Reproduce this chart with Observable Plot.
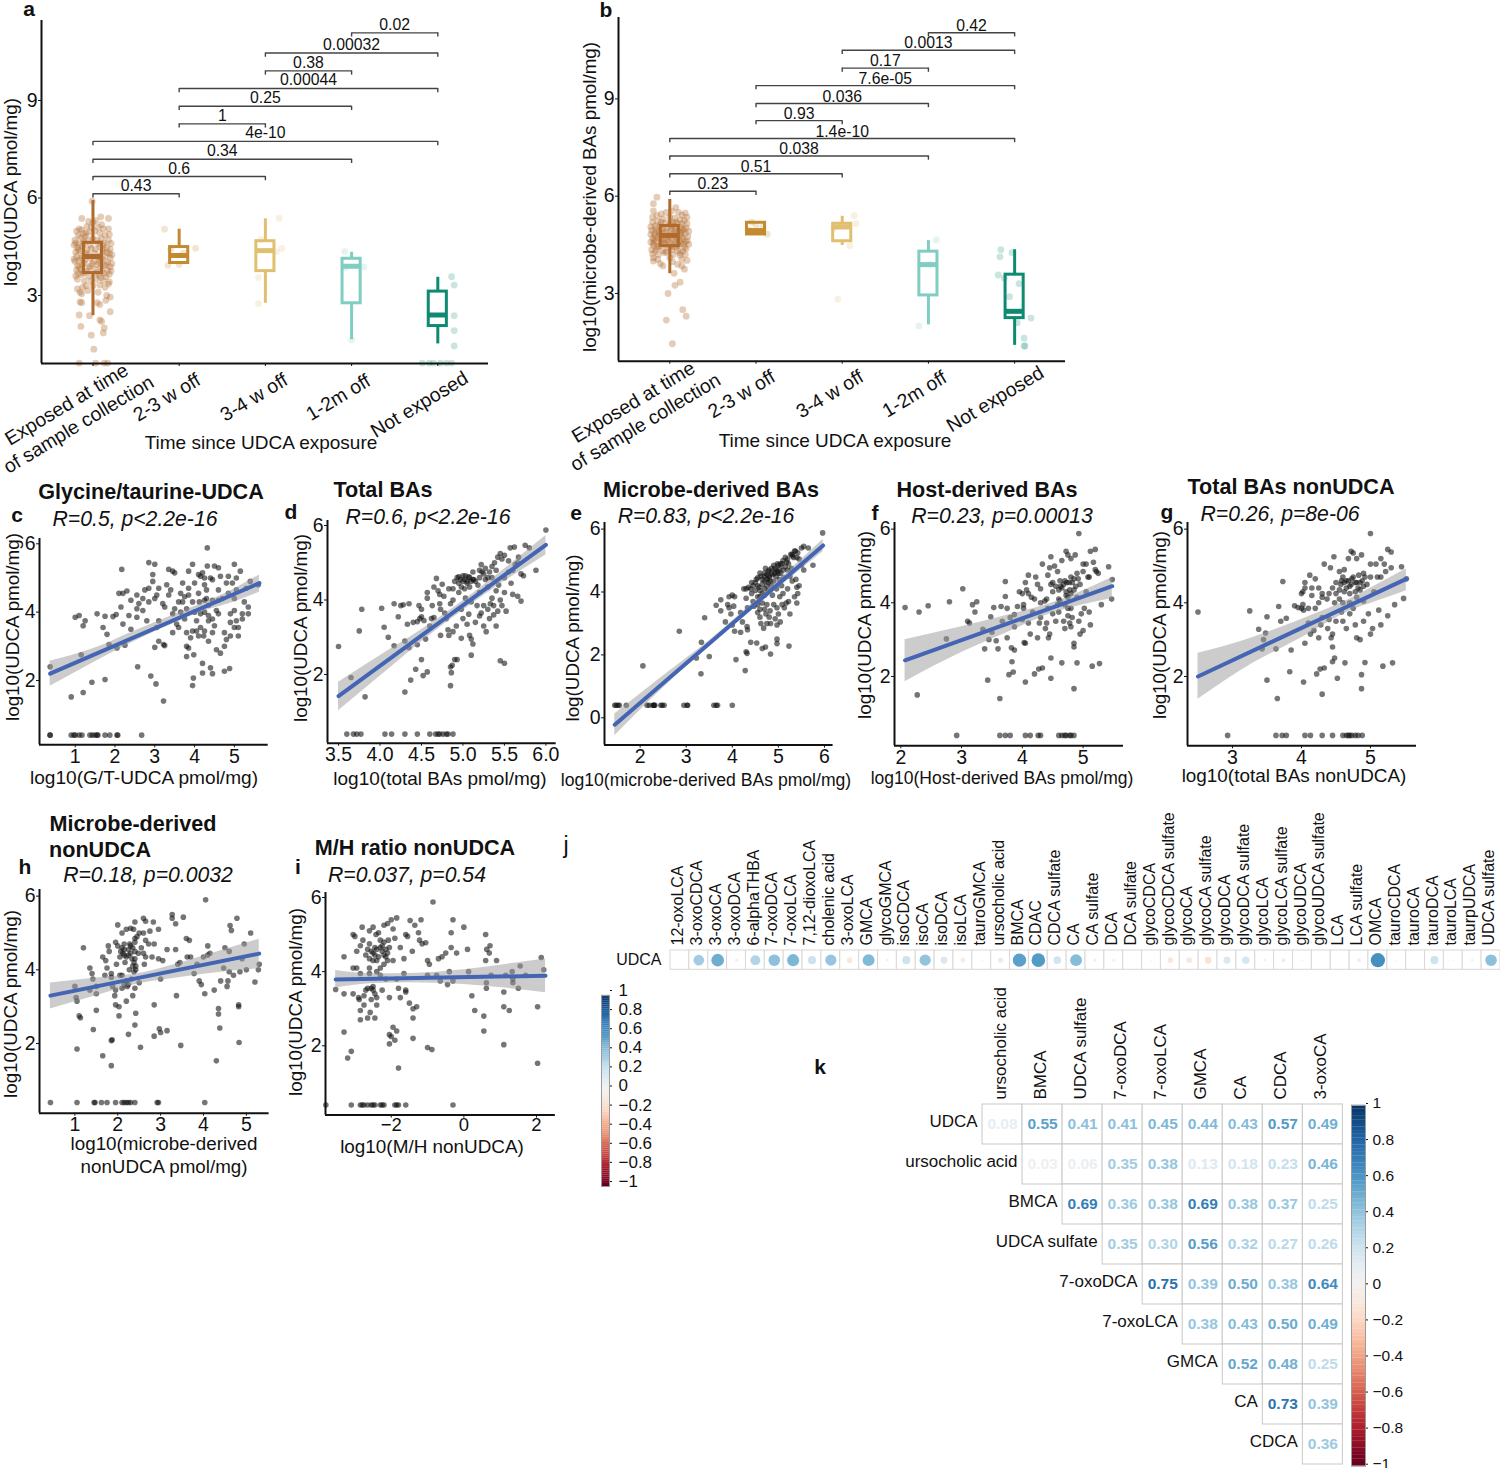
<!DOCTYPE html>
<html><head><meta charset="utf-8">
<script src="https://cdn.jsdelivr.net/npm/d3@7"></script>
<script src="https://cdn.jsdelivr.net/npm/@observablehq/plot@0.6"></script>
<style>
html,body{margin:0;padding:0;background:#fff}
#page{position:relative;width:1500px;height:1468px;overflow:hidden;font-family:"Liberation Sans",Arial,sans-serif;color:#111}
.p{position:absolute}
.p svg{overflow:visible;max-width:none;background:transparent}
.t{position:absolute;white-space:nowrap;line-height:1;transform-origin:center}
</style></head><body><div id="page"></div>
<script>
// ---------- data: panels a, b ----------
const categories=["Exposed at time\nof sample collection","2-3 w off","3-4 w off","1-2m off","Not exposed"];
const groupColors=["#b06a2c","#c48a2f","#e0c070","#80cdc1","#0f8a72"];
const bracketFrom=[0,0,0,0,1,1,1,2,2,3];
const bracketTo=[1,2,3,4,2,3,4,3,4,4];
const aBracketY=[6.13,6.66,7.19,7.74,8.28,8.82,9.37,9.91,10.46,11.08];
const aBracketP=["0.43","0.6","0.34","4e-10","1","0.25","0.00044","0.38","0.00032","0.02"];
const bBracketY=[6.15,6.69,7.24,7.78,8.33,8.86,9.41,9.95,10.5,11.04];
const bBracketP=["0.23","0.51","0.038","1.4e-10","0.93","0.036","7.6e-05","0.17","0.0013","0.42"];
const aLow=[2.38,3.95,2.76,1.64,1.51], aQ1=[3.69,4.0,3.75,2.76,2.06], aMed=[4.2,4.23,4.38,3.9,2.4], aQ3=[4.62,4.49,4.67,4.13,3.12], aHigh=[5.92,5.04,5.36,4.33,3.56];
const bLow=[3.61,4.8,4.48,2.03,1.4], bQ1=[4.46,4.82,4.61,2.94,2.24], bMed=[4.79,4.94,5.05,3.89,2.45], bQ3=[5.08,5.18,5.15,4.29,3.58], bHigh=[5.9,5.22,5.38,4.63,4.35];
const aGroup0=[[-.01,5.9],[.09,5.42],[.18,5.37],[-.13,5.37],[-.05,5.28],[0,5.25],[.03,5.3],[-.07,5.12],[-.16,5.05],[-.19,4.98],[-.13,5.02],[.12,5.05],[.18,5.05],[.08,4.92],[-.04,4.95],[.02,4.98],[-.17,4.85],[-.21,4.7],[-.14,4.78],[-.09,4.82],[.14,4.85],[.19,4.88],[.1,4.75],[-.2,4.62],[-.16,4.58],[-.11,4.68],[-.06,4.72],[.05,4.7],[.13,4.62],[.18,4.7],[.21,4.6],[-.18,4.48],[-.12,4.52],[-.03,4.55],[.08,4.5],[.16,4.48],[.2,4.42],[-.2,4.33],[-.15,4.38],[-.07,4.4],[.03,4.42],[.11,4.35],[.19,4.3],[-.19,4.2],[-.12,4.22],[-.05,4.25],[.06,4.18],[.14,4.2],[.2,4.15],[-.21,4.05],[-.16,4.08],[-.09,4.1],[.01,4.05],[.09,4.08],[.17,4.02],[-.18,3.92],[-.12,3.95],[-.03,3.9],[.05,3.95],[.13,3.92],[.2,3.88],[-.19,3.78],[-.14,3.8],[-.07,3.75],[.02,3.8],[.1,3.75],[.17,3.78],[-.2,3.6],[-.13,3.65],[-.05,3.6],[.07,3.62],[.15,3.58],[.19,3.65],[-.18,3.5],[-.1,3.45],[.04,3.5],[.12,3.45],[.19,3.42],[-.08,3.3],[0,3.3],[.08,3.32],[.18,3.35],[-.15,3.1],[-.13,3.05],[-.06,3.15],[.06,3.1],[.16,3],[.2,2.95],[-.15,2.8],[-.13,2.78],[.05,2.78],[.08,2.72],[.15,2.85],[-.16,2.4],[-.04,2.38],[.2,2.5],[.08,2.25],[.1,2.2],[.13,2],[-.14,2.05],[.12,1.85],[-.02,1.78],[.01,1.35],[-.16,.92],[.03,.92],[.13,.92],[.17,.92],[-.1,4.6],[-.02,4.45],[.06,4.6],[.12,4.42],[-.17,4.4],[-.08,4.3],[.02,4.3],[.08,4.22],[.16,4.32],[-.14,4.15],[-.03,4.15],[.11,4.12],[-.1,4],[-.01,3.98],[.07,4.02],[.15,3.95],[-.16,3.88],[-.05,3.85],[.09,3.86],[-.11,3.7],[.04,3.7],[.13,3.68],[.21,3.75],[-.17,3.68],[-.02,3.45],[.09,3.55],[.14,3.25],[-.12,3.25],[-.18,3.2],[0,4.75],[.12,4.55],[-.08,4.92],[.06,5.1],[-.02,5.1],[.1,5.18],[-.11,4.9],[-.22,4.55],[.22,4.25],[-.22,4.12],[.22,3.98]];
const aGroup1=[[-.17,5.04],[.19,4.45],[-.13,3.93],[0,3.95],[-.1,4.42],[.05,4.3]];
const aGroup2=[[.16,5.38],[.19,4.45],[-.08,3.55],[-.08,2.75],[-.05,4.72],[.13,4.35]];
const aGroup3=[[-.08,4.35],[.14,3.88],[0,1.63],[-.07,3.85]];
const aGroup4=[[.16,3.58],[.19,3.32],[.19,2.38],[.19,1.92],[.19,1.45],[-.18,.92],[-.1,.92],[-.05,.92],[.03,.92],[.1,.92],[.16,.92]];
const bGroup0=[[-.15,5.97],[-.19,5.77],[-.19,5.55],[.07,5.65],[.02,5.55],[.1,5.5],[.18,5.48],[-.1,5.45],[-.04,5.5],[.14,5.42],[.2,5.35],[-.2,5.35],[-.15,5.4],[-.08,5.3],[0,5.35],[.06,5.32],[.12,5.28],[.17,5.25],[-.2,5.2],[-.14,5.22],[-.05,5.18],[.03,5.2],[.09,5.15],[.2,5.15],[-.22,5.05],[-.17,5.08],[-.11,5.1],[-.02,5.05],[.05,5.08],[.13,5.05],[.19,5.02],[-.21,4.95],[-.15,4.92],[-.08,4.98],[.02,4.95],[.1,4.92],[.16,4.95],[.22,4.92],[-.22,4.82],[-.18,4.85],[-.12,4.8],[-.04,4.85],[.04,4.82],[.12,4.8],[.18,4.85],[.21,4.75],[-.2,4.7],[-.14,4.72],[-.07,4.68],[0,4.72],[.08,4.7],[.15,4.68],[.2,4.62],[-.22,4.58],[-.16,4.6],[-.1,4.55],[-.02,4.6],[.06,4.58],[.13,4.55],[.22,4.52],[-.19,4.48],[-.12,4.45],[-.05,4.5],[.03,4.45],[.1,4.48],[.17,4.42],[-.21,4.35],[-.15,4.38],[-.08,4.32],[.02,4.35],[.09,4.32],[.15,4.3],[-.2,4.22],[-.13,4.2],[-.06,4.25],[.04,4.2],[.12,4.18],[.18,4.2],[-.19,4.1],[-.14,4.05],[0,4.1],[.14,4.05],[.2,4.02],[-.19,4],[-.11,3.92],[.03,3.98],[.09,3.9],[.17,3.75],[.14,3.85],[-.08,3.85],[.05,3.62],[.12,3.35],[.06,3.25],[-.02,3],[.15,2.5],[.19,2.3],[-.04,2.18],[.03,1.45],[-.16,5],[-.09,5],[.01,5],[.07,5],[.15,4.98],[-.12,4.9],[-.05,4.9],[.06,4.9],[.13,4.88],[-.17,4.78],[-.09,4.75],[-.01,4.78],[.07,4.78],[.14,4.75],[-.18,4.65],[-.1,4.65],[-.03,4.65],[.04,4.65],[.11,4.62],[.18,4.6],[-.19,4.55],[-.06,4.55],[.02,4.52],[.09,4.52],[.16,4.52],[-.14,4.45],[-.01,4.42],[.07,4.42],[.19,4.38],[-.17,4.3],[-.04,4.28],[.12,4.25],[-.1,5.2],[0,5.15],[.07,5.2],[.14,5.15]];
const bGroup1=[[-.05,5.2],[.13,4.83],[0,5.1],[.08,5.05],[-.08,4.95]];
const bGroup2=[[.14,5.4],[.16,5.15],[.09,4.47],[-.05,2.82],[-.1,5]];
const bGroup3=[[.09,4.65],[-.11,2],[.02,3.9]];
const bGroup4=[[-.16,4.35],[-.17,4.13],[-.03,4.26],[-.19,3.57],[-.12,3.47],[.05,3.3],[-.06,2.9],[.19,2.24],[.03,2.1],[.11,1.62],[.11,1.38],[.12,1.38]];

// ---------- data: panels c..i ----------
const cFloor=[.37,.37,.9,.97,1,1.1,1.17,1.37,1.43,1.5,1.55,1.57,1.75,1.87,2.05,2.07,2.67];
const cPoints=[[.37,2.4],[.9,1.52],[1.2,1.65],[1.42,1.95],[1.75,2.03],[1.15,2.75],[1.85,3.05],[2.05,2.95],[2.25,3.03],[1,3.85],[1.1,3.9],[1.2,3.6],[1.25,3.75],[1.55,3.95],[1.75,3.88],[1.95,3.87],[2.03,3.93],[1.7,3.55],[1.8,3.35],[2.2,3.65],[2.15,4.15],[2.35,3.9],[2.4,4.35],[2.1,4.55],[2.2,4.55],[2.3,4.62],[2.17,5.25],[2.4,3.5],[2.55,3.85],[2.55,4.1],[2.6,4.25],[2.7,4.4],[2.55,4.5],[2.75,4.65],[2.85,4.7],[2.7,4.05],[2.8,3.75],[2.85,4.3],[2.85,5.45],[3,5.4],[2.95,5.1],[2.95,4.9],[3.05,4.5],[3,4.4],[3.1,4.7],[3.05,3.55],[3.1,3.75],[3,2.97],[2.57,2.4],[2.9,2.13],[3.03,1.9],[3.22,1.4],[3.1,3.15],[3.22,3.05],[3.25,3.02],[3.2,4.25],[3.3,4.8],[3.25,4.15],[3.35,4.5],[3.35,5.25],[3.45,5.2],[3.5,5.15],[3.4,4.65],[3.5,4.1],[3.45,3.95],[3.55,3.65],[3.45,3.4],[3.6,3.55],[3.6,4.3],[3.65,4.55],[3.7,4.85],[3.7,4.3],[3.65,4],[3.75,4.45],[3.75,3.8],[3.8,4.1],[3.8,3.4],[3.85,5.2],[3.85,4.7],[3.8,3],[3.85,2.95],[3.8,2.7],[3.9,3.25],[3.85,4.5],[3.95,5.4],[3.95,4.3],[4,4.85],[4,4],[3.95,3.45],[4.05,3.75],[4.05,3.45],[3.98,2.75],[3.97,2.07],[3.95,1.85],[4.1,5.1],[4.15,5.05],[4.1,4.55],[4.12,4.3],[4.15,3.95],[4.15,3.55],[4.1,3.3],[4.2,5.15],[4.25,5],[4.25,4.8],[4.25,4.35],[4.25,4],[4.25,3.45],[4.23,3.3],[4.2,2.5],[4.2,2.22],[4.32,5.88],[4.32,5.35],[4.3,4.65],[4.3,4.4],[4.35,4.2],[4.35,3.9],[4.35,3.75],[4.35,3.15],[4.4,5],[4.4,2.37],[4.45,3.4],[4.45,3.8],[4.45,4.35],[4.45,4.95],[4.5,5.35],[4.45,2.2],[4.5,3.6],[4.55,4.05],[4.55,2.9],[4.6,4.65],[4.6,4.35],[4.6,3.95],[4.65,5.05],[4.6,5.3],[4.65,2.8],[4.7,4.4],[4.75,3.4],[4.75,3],[4.8,3.2],[4.8,4.85],[4.85,5.05],[4.85,4.55],[4.75,2.27],[4.88,2.35],[4.9,3.3],[4.9,3.7],[4.9,3.95],[4.95,4.85],[5,5.4],[5,4.4],[5,3.55],[5,4.05],[5.05,5],[5.05,4.65],[5.05,3.75],[5.1,3.55],[5.1,3.3],[5.15,5.2],[5.2,3.95],[5.2,3.8],[5.25,4.3],[5.35,4.15],[5.35,3.95],[5.3,4.7],[5.4,4.9],[5.6,4.8]];
const dFloor=[3.6,3.68,3.72,3.77,4.06,4.14,4.3,4.45,4.6,4.67,4.7,4.72,4.76,4.8,4.82,4.88];
const dPoints=[[3.5,2.75],[3.65,1.92],[3.75,3.17],[3.78,3.75],[3.82,1.4],[4.02,3.78],[4.05,3.27],[4.1,3],[4.17,2.77],[4.17,3.9],[4.22,3.55],[4.25,3.85],[4.28,3.87],[4.3,2.9],[4.3,1.53],[4.33,3.35],[4.35,3.9],[4.35,2.72],[4.37,1.85],[4.4,3.4],[4.43,2.14],[4.45,3.42],[4.45,2.8],[4.47,3.85],[4.48,3.5],[4.5,2.4],[4.5,3.75],[4.5,3.55],[4.52,1.97],[4.53,3.45],[4.55,2.95],[4.57,2.07],[4.57,4.2],[4.57,4.05],[4.6,3.3],[4.62,3.5],[4.63,3.85],[4.65,4.35],[4.65,3.53],[4.68,4.58],[4.7,4.25],[4.72,4.15],[4.72,3.9],[4.73,3.75],[4.73,3.05],[4.75,4.42],[4.77,4.1],[4.78,3.65],[4.8,3.5],[4.82,3.2],[4.83,3.05],[4.83,4.3],[4.85,3.9],[4.85,2.2],[4.85,1.7],[4.86,2.05],[4.87,2.25],[4.88,4.3],[4.88,4],[4.9,2.4],[4.92,3.3],[4.93,2.4],[4.88,3.15],[4.9,4.5],[4.93,4.6],[4.95,4.45],[4.95,4.2],[4.98,3.75],[4.98,4.35],[5,4.65],[4.98,2.97],[5,3.5],[5.02,4.55],[5.02,4.3],[5.03,4.05],[5.05,3.35],[5.05,4.45],[5.07,3.62],[5.07,4.62],[5.08,3.05],[5.08,4.35],[5.1,2.95],[5.1,2.52],[5.1,3.95],[5.12,4.75],[5.12,2.82],[5.13,4.55],[5.15,4.5],[5.15,3.4],[5.17,3.85],[5.18,4.4],[5.2,4.6],[5.2,3.57],[5.2,4.2],[5.22,4.95],[5.22,3.65],[5.23,4.75],[5.25,3.3],[5.25,3.85],[5.27,4.85],[5.27,4.55],[5.28,3.15],[5.3,3.75],[5.3,4.35],[5.32,4.75],[5.32,3.5],[5.33,3.9],[5.35,4.05],[5.35,4.6],[5.35,4.9],[5.37,3.6],[5.37,3.85],[5.38,5],[5.4,4.8],[5.4,4.25],[5.4,3.3],[5.42,5.15],[5.42,3.7],[5.43,4.4],[5.45,5.25],[5.45,2.37],[5.45,4],[5.47,5.1],[5.47,3.85],[5.5,5.2],[5.5,2.3],[5.5,4.6],[5.5,4.2],[5.52,3.7],[5.55,4.75],[5.55,5.05],[5.57,5.4],[5.58,4.45],[5.6,4.15],[5.62,5.42],[5.63,4.95],[5.6,4.8],[5.66,5],[5.66,4.1],[5.67,5.15],[5.7,4.7],[5.7,3.97],[5.73,4.65],[5.75,5.47],[5.8,5.4],[5.88,4.8],[6,5.88],[4.95,4.62],[4.97,4.55],[5,4.5],[5.03,4.65],[5.05,4.5],[5.08,4.6],[5.1,4.5],[5.12,4.55],[5.2,4.8],[5.25,4.7],[5.3,4.6]];
const eFloor=[1.45,1.48,1.52,1.55,1.7,2.15,2.2,2.28,2.3,2.3,2.32,2.45,2.48,2.52,2.95,3.02,3.03,3.6,3.65,3.68,4];
const ePoints=[[2.06,1.65],[2.85,2.75],[3.22,1.9],[3.32,1.4],[3.33,2.4],[3.4,3.18],[3.5,1.95],[3.65,3.58],[3.75,3.75],[3.75,3.4],[3.85,3.05],[3.9,3.6],[3.93,3.85],[3.93,3.5],[3.97,3.3],[4,3.9],[4,2.95],[4.03,3.55],[4.05,3.85],[4.05,2.75],[4.08,1.85],[4.18,3.35],[4.18,2.72],[4.22,3.05],[4.25,4.1],[4.28,1.5],[4.3,2.1],[4.32,2.05],[4.32,2.9],[4.33,2.8],[4.33,3.5],[4.3,3.8],[4.3,4.1],[4.35,4.15],[4.4,2.4],[4.42,3.95],[4.42,4.3],[4.45,3.7],[4.47,3.55],[4.5,4.05],[4.52,4.4],[4.53,2.38],[4.55,3.85],[4.55,3.35],[4.58,4.15],[4.6,3.45],[4.6,3.2],[4.62,4.5],[4.62,3],[4.65,3.95],[4.65,2.2],[4.68,2.85],[4.7,4.35],[4.7,4.6],[4.7,4.1],[4.72,2.25],[4.73,3.3],[4.75,4.55],[4.75,3.6],[4.78,4.3],[4.78,4.05],[4.8,4.7],[4.8,4.45],[4.82,3.4],[4.83,3],[4.83,2.03],[4.85,4.6],[4.85,4.2],[4.87,3.9],[4.9,4.35],[4.9,3.6],[4.92,4.75],[4.93,3.15],[4.95,4.5],[4.96,4.1],[4.97,3.5],[4.97,2.95],[4.97,2.5],[4.97,2.36],[4.98,4.65],[5,4.85],[5,3.3],[5.02,4.4],[5.03,3.85],[5.04,3.05],[5.05,4.6],[5.07,4.2],[5.08,4.9],[5.08,3.6],[5.1,4.7],[5.1,3.95],[5.12,4.45],[5.13,3.5],[5.15,4.8],[5.17,3.65],[5.18,4.95],[5.2,5.05],[5.2,4.1],[5.22,3.7],[5.23,2.28],[5.25,4.5],[5.25,3.3],[5.27,5.2],[5.28,4.75],[5.3,4.35],[5.33,5.1],[5.35,3.85],[5.37,5.3],[5.38,4.4],[5.4,4.15],[5.4,3.65],[5.42,3.95],[5.42,5.25],[5.45,4.2],[5.45,5.05],[5.5,5.4],[5.55,4.7],[5.5,4.85],[5.55,5.45],[5.65,5.4],[5.75,4.85],[5.96,5.88],[4.55,4.45],[4.6,4.6],[4.65,4.4],[4.7,4.5],[4.72,4.75],[4.75,4.4],[4.78,4.65],[4.8,4.5],[4.82,4.35],[4.85,4.75],[4.88,4.55],[4.9,4.85],[4.92,4.6],[4.95,4.7],[4.98,4.9],[5,4.6],[5.03,4.75],[5.05,4.9],[5.1,5],[5.15,5.1],[5.2,4.7],[5.22,4.9],[5.3,5.15],[5.35,5.3],[5.3,5.2],[5.4,5.1],[4.4,4.1],[4.45,4.2],[4.5,4.3],[4.55,4.2],[4.6,4.05],[4.65,4.25],[4.7,3.9],[4.75,4.2],[4.6,3.85],[4.55,3.6],[4.65,3.65],[4.7,3.45],[4.75,3],[4.8,3.2]];
const fFloor=[2.92,3.63,3.72,3.8,4.05,4.13,4.26,4.3,4.6,4.65,4.7,4.72,4.78,4.8,4.85];
const fPoints=[[2.07,3.87],[2.27,1.5],[2.3,3.75],[2.45,3.92],[2.75,3.02],[2.8,4.03],[3.02,4.38],[3.1,3.5],[3.13,3.45],[3.18,3.95],[3.22,3.75],[3.25,4.03],[3.35,3.28],[3.38,2.75],[3.43,1.9],[3.45,3],[3.48,3.62],[3.5,3.2],[3.53,3.87],[3.57,2.97],[3.6,2.75],[3.63,1.4],[3.65,3.9],[3.67,3.5],[3.72,4.58],[3.72,4.17],[3.75,3.85],[3.75,3.05],[3.78,2.05],[3.8,3.6],[3.82,2.78],[3.83,2.4],[3.85,2.12],[3.87,2.72],[3.87,3.35],[3.87,3.68],[3.92,3.9],[3.95,4.3],[4,3.55],[4,4.25],[4.02,3.95],[4.02,3.85],[4.03,2.92],[4.05,2.9],[4.05,1.85],[4.05,4.55],[4.07,4.35],[4.1,4.25],[4.1,4.75],[4.1,3.45],[4.13,3.15],[4.15,4.15],[4.17,3.75],[4.2,4.1],[4.2,2.07],[4.22,4.7],[4.25,4.5],[4.25,3.05],[4.27,2.2],[4.28,3.45],[4.3,4.38],[4.3,3.6],[4.33,5.05],[4.33,2.23],[4.37,4.05],[4.38,3.3],[4.4,3.45],[4.42,3.85],[4.42,4.75],[4.43,3.05],[4.45,4.95],[4.45,3.15],[4.47,5.25],[4.47,4.5],[4.47,2.5],[4.47,1.95],[4.5,4.3],[4.5,3.7],[4.53,5],[4.55,4.45],[4.55,3.5],[4.58,4.85],[4.6,4.1],[4.6,3.75],[4.63,4.45],[4.65,5.15],[4.65,2.37],[4.68,3.5],[4.7,4.6],[4.7,3.3],[4.72,5.4],[4.72,4.2],[4.75,5.3],[4.75,3.85],[4.77,4.55],[4.78,3.45],[4.8,5.2],[4.8,4.7],[4.8,3.35],[4.82,3.6],[4.85,4.35],[4.85,1.67],[4.87,5.3],[4.85,2.9],[4.85,2.8],[4.9,4.8],[4.9,2.37],[4.93,3.5],[4.93,5.88],[4.95,4.5],[4.95,3.15],[4.97,3.7],[5,5.05],[5,4.85],[5,3.25],[5.02,3.85],[5.05,5.05],[5.05,4.3],[5.08,4.7],[5.1,3.75],[5.1,4.7],[5.12,5.4],[5.12,3.4],[5.15,2.28],[5.17,5.1],[5.2,5.45],[5.2,4.9],[5.22,4.85],[5.27,2.35],[5.25,4.8],[5.3,3.95],[5.42,4.98],[5.47,4.1],[5.48,4.63],[4.5,4.55],[4.6,4.35],[4.62,4.6],[4.65,4.4],[4.68,4.5],[4.72,4.3],[4.73,4.55],[4.75,4.15],[4.78,4.35],[4.8,4.25],[4.82,4.55],[4.85,4.65],[4.88,4.45],[4.9,4.15],[4.92,4.65],[4.58,3.95],[4.62,4.05],[4.7,3.95],[4.75,3.65],[4.8,3.85],[4.4,4.1],[4.3,4]];
const gFloor=[2.93,3.63,3.72,3.78,4.05,4.13,4.3,4.45,4.6,4.65,4.68,4.7,4.73,4.78,4.82,4.88];
const gPoints=[[2.5,3.75],[3.25,3.78],[3.38,3.28],[3.43,2.75],[3.45,3],[3.48,3.18],[3.5,3.62],[3.5,1.9],[3.63,2.75],[3.65,1.4],[3.67,3.9],[3.7,3.5],[3.73,4.58],[3.78,3.58],[3.85,2.72],[3.83,2.13],[3.9,3.92],[3.95,3.87],[4,4.25],[4,3.85],[4.02,4.3],[4.02,3.95],[4.03,3.8],[4.05,4.55],[4.05,4.4],[4.05,2.9],[4.03,1.85],[4.1,3.85],[4.1,3.45],[4.12,4.75],[4.13,3.15],[4.15,4.2],[4.15,4.4],[4.18,3.25],[4.2,3.85],[4.2,4.65],[4.22,2.07],[4.25,4.4],[4.25,4],[4.25,3.05],[4.27,2.2],[4.28,3.4],[4.3,4.25],[4.3,4.15],[4.3,3.6],[4.3,1.52],[4.33,5.05],[4.33,2.23],[4.37,4.1],[4.38,3.3],[4.4,3.55],[4.42,4.95],[4.43,3.05],[4.45,4.4],[4.45,3.15],[4.45,2.8],[4.45,2.4],[4.47,5.25],[4.48,4],[4.48,2.5],[4.5,4.55],[4.52,1.95],[4.5,3.5],[4.55,4.85],[4.55,4.1],[4.57,4.5],[4.58,3.75],[4.6,3.5],[4.62,4.9],[4.62,4.3],[4.63,2.37],[4.65,4.6],[4.65,3.3],[4.68,5.2],[4.7,4.45],[4.7,3.7],[4.72,5.4],[4.73,4.65],[4.75,5.35],[4.75,3.85],[4.78,4.55],[4.78,3.4],[4.8,5.2],[4.8,3.05],[4.83,4.75],[4.85,4.35],[4.85,3],[4.87,5.3],[4.87,2.05],[4.87,1.67],[4.9,4.8],[4.9,4.05],[4.9,3.5],[4.92,2.38],[4.95,4.5],[4.97,3.7],[5,5.88],[5,5.05],[5,4.7],[5,3.15],[5.03,3.3],[5.05,4.3],[5.08,5.05],[5.1,4.7],[5.12,3.8],[5.15,4.7],[5.15,5.2],[5.15,3.4],[5.18,2.28],[5.2,5.05],[5.22,4.85],[5.25,5.45],[5.25,3.65],[5.3,5.38],[5.3,4.95],[5.32,2.37],[5.35,3.95],[5.45,4.98],[5.48,4.12],[5.52,4.65],[4.6,4.7],[4.62,4.55],[4.65,4.4],[4.68,4.6],[4.7,4.25],[4.72,4.5],[4.75,4.7],[4.78,4.3],[4.8,4.55],[4.82,4.4],[4.85,4.55],[4.88,4.6],[4.9,4.45],[4.92,4.7],[4.55,4.35],[4.58,4.6],[4.5,4.25],[4.6,4],[4.7,4],[4.8,4.15],[4.4,4.25]];
const hFloor=[.43,1.05,1.45,1.47,1.62,1.75,1.95,2.1,2.15,2.2,2.25,2.3,2.4,2.92,2.95,4.03];
const hPoints=[[1,3.55],[1.03,3.25],[1.05,3.15],[1.05,1.85],[1.1,2.75],[1.13,2.7],[1.2,4.6],[1.35,3.45],[1.35,4.05],[1.4,3.9],[1.42,3.75],[1.43,2.38],[1.5,3.35],[1.5,3.55],[1.5,2.9],[1.65,4.35],[1.65,1.67],[1.7,3.85],[1.72,4.25],[1.78,4.65],[1.75,4.05],[1.8,4.5],[1.85,2.08],[1.85,1.4],[1.87,2.1],[1.85,3.8],[1.88,3.55],[1.93,3.3],[1.95,4.75],[1.95,3.05],[1.97,4.15],[2,5.22],[2,4.65],[2.03,3],[2.03,2.75],[2.05,3.85],[2.07,4.5],[2.1,5],[2.1,3.5],[2.15,4.7],[2.15,4.4],[2.17,4.2],[2.2,5.1],[2.2,3.15],[2.22,3.55],[2.25,4.55],[2.25,2.25],[2.27,4],[2.3,5.13],[2.3,4.65],[2.33,4.3],[2.35,3.3],[2.37,5.1],[2.4,5.3],[2.4,4.85],[2.4,4.5],[2.4,3.5],[2.42,4],[2.42,2.82],[2.4,2.5],[2.5,5],[2.5,3.65],[2.53,1.9],[2.6,5.4],[2.6,5],[2.62,4.15],[2.65,4.8],[2.65,5.32],[2.72,4.7],[2.75,5.05],[2.8,4.35],[2.83,5.3],[2.85,4.7],[2.85,3.05],[2.85,2.2],[2.95,5.1],[2.95,4.3],[2.97,2.4],[3,2.3],[3,3.75],[3.05,4.25],[3.15,4.55],[3.15,2.35],[3.27,5.5],[3.27,5.4],[3.35,5.25],[3.35,4.55],[3.37,3.3],[3.4,4.15],[3.45,4.2],[3.47,1.95],[3.53,5.43],[3.6,4.85],[3.62,4.35],[3.67,4.8],[3.7,4.35],[3.78,3.9],[3.85,4.15],[3.9,3.7],[3.95,3.6],[4,4.35],[4.03,3.35],[4.1,4.4],[4.05,5.9],[4.1,4.65],[4.15,4.45],[4.25,3.45],[4.3,1.53],[4.35,2.95],[4.35,2.8],[4.38,2.42],[4.4,3.7],[4.47,4.05],[4.5,4.6],[4.55,3.55],[4.57,3.7],[4.6,4.5],[4.6,3.95],[4.62,5.2],[4.65,5.07],[4.7,3.85],[4.78,5.4],[4.82,3.05],[4.82,3],[4.83,2.03],[4.85,3.95],[4.9,4.3],[4.95,4.7],[5,4],[5.1,5],[5.2,3.67],[5.3,4.15],[5.28,4],[2.05,4.35],[2.1,4.6],[2.12,4.45],[2.15,4.55],[2.2,4.35],[2.25,4.4],[2.28,4.7],[2.3,4.45],[2.35,4.6],[2.38,4.2],[2.4,4.3],[2.4,4.75],[2.42,4.1],[2.35,4.1],[2.38,3.95],[2.1,3.85],[2.15,3.6],[2.2,3.7],[2.25,3.6],[2.32,3.75],[2.45,4.9],[2.48,4.45],[2.55,4.6],[2.6,4.45],[2.65,4.35],[1.85,3.9],[1.95,3.45]];
const iFloor=[-3.8,-3.1,-2.85,-2.8,-2.75,-2.65,-2.55,-2.5,-2.45,-2.3,-2.25,-2.2,-1.9,-1.85,-1.8,-1.6,-.3];
const iPoints=[[-3.53,3.52],[-3.3,4.4],[-3.3,3.4],[-3.3,2.37],[-3.2,1.67],[-3.1,1.85],[-3.05,3.4],[-3.05,4.1],[-3.05,5],[-3,4.95],[-2.95,4.1],[-2.95,4.55],[-2.9,3.3],[-2.88,3.25],[-2.85,4.7],[-2.85,3.95],[-2.85,2.95],[-2.85,2.7],[-2.8,5.2],[-2.78,4.85],[-2.75,3.1],[-2.7,4.45],[-2.65,2.75],[-2.6,5.1],[-2.6,4.75],[-2.6,4.1],[-2.58,2.9],[-2.55,3.55],[-2.5,5.2],[-2.5,4.5],[-2.5,3.5],[-2.45,2.75],[-2.45,4.65],[-2.42,5],[-2.4,4.3],[-2.4,3.3],[-2.4,3.1],[-2.35,5.05],[-2.3,4.65],[-2.3,4.1],[-2.25,3.5],[-2.2,5.25],[-2.2,4.45],[-2.15,3.8],[-2.1,5.3],[-2.08,4.85],[-2.1,4.3],[-2.05,3.3],[-2.05,2.3],[-2,5.4],[-2,2.25],[-2.05,2.05],[-1.95,2.5],[-1.95,5.15],[-1.9,4.9],[-1.9,2.15],[-1.85,2.4],[-1.85,5.45],[-1.85,3.8],[-1.8,3.55],[-1.75,4.65],[-1.75,3.3],[-1.65,4.35],[-1.65,3.95],[-1.6,5],[-1.6,3.5],[-1.55,4.95],[-1.6,3.45],[-1.5,3.15],[-1.8,1.4],[-1.48,5.38],[-1.42,4.55],[-1.4,3],[-1.4,2.75],[-1.4,2.2],[-1.35,5.25],[-1.3,3.05],[-1.25,5.05],[-1.22,4.85],[-1.18,5.4],[-1.15,4.75],[-1.05,4.78],[-1,4.3],[-1,3.9],[-1,1.95],[-.95,4.2],[-.88,1.9],[-.85,5.88],[-.75,3.9],[-.7,4.35],[-.65,3.75],[-.6,4.4],[-.5,4.5],[-.45,3.65],[-.4,4],[-.35,4.65],[-.35,5.05],[-.3,3.75],[-.3,5.4],[-.2,4.5],[0,5.2],[.1,4.6],[.13,4],[.22,3.35],[.3,2.95],[.55,2.8],[.55,2.4],[.6,5],[.6,4.3],[.62,3.55],[.62,3.7],[.63,4.6],[.7,4.5],[.72,4.7],[.75,3.9],[.9,4.3],[1.1,3.45],[1.1,3.05],[1.1,2.03],[1.15,3.9],[1.25,2.95],[1.33,4],[1.35,3.8],[1.35,3.7],[1.5,3.55],[1.55,4.15],[1.7,3.9],[2.03,3.05],[2.03,1.53],[2.13,4.38],[2.2,4.05],[-2.65,4.6],[-2.6,4.35],[-2.55,4.55],[-2.5,4.3],[-2.45,4.45],[-2.4,4.6],[-2.35,4.4],[-2.3,4.85],[-2.25,4.55],[-2.25,4.7],[-2.2,4.8],[-2.15,4.6],[-2.15,4.4],[-2.1,4.5],[-2.05,4.65],[-2.2,4.2],[-2.4,4],[-2.6,3.95],[-2.7,3.5],[-2.75,3.35],[-2.65,3.55],[-2.5,3.6],[-2.45,3.4],[-2.55,3.25],[-2.3,3.9],[-1.95,4.3]];
// fit lines and ribbons
const cBand={x:[.37,1.5,2.5,3.5,4.2,5,5.63],lo:[1.83,2.55,3.15,3.68,4.02,4.3,4.58],hi:[2.56,2.95,3.45,3.93,4.26,4.68,5.09]};
const dBand={x:[3.5,4,4.5,5,5.5,6],lo:[1.03,1.95,2.88,3.72,4.5,5.21],hi:[1.79,2.5,3.2,3.97,4.83,5.73]};
const eBand={x:[1.45,2.5,3.5,4.5,5,5.97],lo:[-.57,.95,2.25,3.52,4.13,5.28],hi:[.12,1.33,2.45,3.72,4.37,5.67]};
const fBand={x:[2.07,3,3.8,4.5,5,5.48],lo:[1.86,2.65,3.23,3.72,3.95,4.12],hi:[3,3.35,3.68,4,4.33,4.69]};
const gBand={x:[2.5,3.2,4,4.7,5.1,5.52],lo:[1.38,2.25,3.05,3.78,4.05,4.33],hi:[2.63,3,3.55,4.1,4.5,4.92]};
const hBand={x:[.43,1.5,2.5,3.5,4.5,5.3],lo:[2.94,3.3,3.62,3.8,3.95,4.03],hi:[3.64,3.78,3.9,4.2,4.55,4.83]};
const iBand={x:[-3.53,-2.5,-1.5,0,1.2,2.25],lo:[3.56,3.68,3.7,3.65,3.55,3.43],hi:[4.03,3.94,3.95,4.05,4.2,4.34]};
const cFit=[[.37,2.2],[5.63,4.85]], dFit=[[3.5,1.42],[6,5.48]], eFit=[[1.45,-.22],[5.97,5.48]], fFit=[[2.07,2.44],[5.48,4.45]], gFit=[[2.5,2],[5.52,4.65]], hFit=[[.43,3.3],[5.3,4.44]], iFit=[[-3.53,3.79],[2.25,3.89]];
// ---------- data: panels j, k ----------
const jNames=["12-oxoLCA","3-oxoCDCA","3-oxoCA","3-oxoDCA","6-alphaTHBA","7-oxoDCA","7-oxoLCA","7,12-dioxoLCA","cholenic acid","3-oxoLCA","GMCA","glycoGMCA","isoCDCA","isoCA","isoDCA","isoLCA","tauroGMCA","ursocholic acid","BMCA","CDAC","CDCA sulfate","CA","CA sulfate","DCA","DCA sulfate","glycoCDCA","glycoCDCA sulfate","glycoCA","glycoCA sulfate","glycoDCA","glycoDCA sulfate","glycoLCA","glycoLCA sulfate","glycoUDCA","glycoUDCA sulfate","LCA","LCA sulfate","OMCA","tauroCDCA","tauroCA","tauroDCA","tauroLCA","taurpUDCA","UDCA sulfate"];
const jValues=[0,.35,.49,.03,.3,.41,.45,.2,.38,-.1,.44,.02,.2,.39,.15,-.07,.01,.08,.55,.57,.18,.43,.03,.03,0,.01,-.1,-.1,-.14,.15,.17,.02,.05,.01,0,0,-.05,.62,.01,0,.2,.01,.02,.41];
const kCols=["ursocholic acid","BMCA","UDCA sulfate","7-oxoDCA","7-oxoLCA","GMCA","CA","CDCA","3-oxoCA"];
const kRows=["UDCA","ursocholic acid","BMCA","UDCA sulfate","7-oxoDCA","7-oxoLCA","GMCA","CA","CDCA"];
const kValues=[[.08,.55,.41,.41,.45,.44,.43,.57,.49],[.03,.06,.35,.38,.13,.18,.23,.46],[.69,.36,.38,.69,.38,.37,.25],[.35,.30,.56,.32,.27,.26],[.75,.39,.50,.38,.64],[.38,.43,.50,.49],[.52,.48,.25],[.73,.39],[.36]];
const legendTicks=[1,.8,.6,.4,.2,0,-.2,-.4,-.6,-.8,-1];

// ---------- helpers ----------
const page=document.getElementById("page");
const FONT='"Liberation Sans",Arial,sans-serif';
const plain=d=>String(d).replace("-","\u2212");
function label(text,cx,cy,o={}){
  const s=document.createElement("div");s.className="t";s.textContent=text;
  s.style.left=cx+"px";s.style.top=cy+"px";
  s.style.fontSize=(o.size||18.8)+"px";
  if(o.bold)s.style.fontWeight="bold";
  if(o.italic)s.style.fontStyle="italic";
  if(o.lh)s.style.lineHeight=o.lh;
  s.style.transform=`translate(-50%,-50%)${o.rotate?` rotate(${o.rotate}deg)`:""}`;
  page.appendChild(s);
}
const M={l:60,r:30,t:30,b:60};
function place(frame,opts,m=M){
  const [l,t,r,b]=frame;
  const fig=Plot.plot({width:r-l+m.l+m.r,height:b-t+m.t+m.b,marginLeft:m.l,marginRight:m.r,marginTop:m.t,marginBottom:m.b,
    style:{background:"transparent",fontFamily:FONT,overflow:"visible",color:"#111"},...opts});
  const d=document.createElement("div");d.className="p";d.style.left=(l-m.l)+"px";d.style.top=(t-m.t)+"px";
  d.appendChild(fig);page.appendChild(d);
}
function axisLines(xd,yd){return [Plot.ruleY([yd[0]],{stroke:"#111",strokeWidth:2}),Plot.ruleX([xd[0]],{stroke:"#111",strokeWidth:2})];}

function boxPanel(c){
  const stats=categories.map((n,i)=>({i,lo:c.low[i],q1:c.q1[i],med:c.med[i],q3:c.q3[i],hi:c.high[i]}));
  const dots=c.groups.flatMap((g,i)=>g.map(([off,y])=>({x:i+off,y,i})));
  const br=bracketFrom.map((f,i)=>({f,t:bracketTo[i],y:c.bracketY[i],p:c.bracketP[i]}));
  const tickMarks=br.flatMap(d=>[{x:d.f,y:d.y},{x:d.t,y:d.y}]);
  place(c.frame,{
    x:{domain:c.xd,axis:null},y:{domain:c.yd,axis:null},
    color:{type:"ordinal",domain:[0,1,2,3,4],range:groupColors},
    marks:[
      Plot.dot(dots,{filter:d=>d.i===0,x:"x",y:"y",r:3.4,fill:"i",fillOpacity:.34}),
      Plot.dot(dots,{filter:d=>d.i>0,x:"x",y:"y",r:3.4,fill:"i",fillOpacity:.22}),
      Plot.ruleX(stats,{x:"i",y1:"q3",y2:"hi",stroke:"i",strokeWidth:3}),
      Plot.ruleX(stats,{x:"i",y1:"lo",y2:"q1",stroke:"i",strokeWidth:3}),
      Plot.rect(stats,{x1:d=>d.i-.105,x2:d=>d.i+.105,y1:"q1",y2:"q3",stroke:"i",strokeWidth:3,fill:"none"}),
      Plot.link(stats,{x1:d=>d.i-.105,x2:d=>d.i+.105,y1:"med",y2:"med",stroke:"i",strokeWidth:5}),
      Plot.link(br,{x1:"f",x2:"t",y1:"y",y2:"y",stroke:"#444",strokeWidth:1.4}),
      Plot.ruleX(tickMarks,{x:"x",y1:"y",y2:d=>d.y-.13,stroke:"#444",strokeWidth:1.4}),
      Plot.text(br,{x:d=>(d.f+d.t)/2,y:"y",text:"p",dy:c.pDy,fontSize:15.8,fill:"#111"}),
      Plot.axisY({ticks:[3,6,9],tickSize:3,tickPadding:1,fontSize:19.5,label:null,tickFormat:plain}),
      Plot.axisX({ticks:[0,1,2,3,4],tickSize:3,tickFormat:()=>"",label:null}),
      ...categories.map((n,i)=>Plot.text([n],{x:()=>i,y:()=>c.yd[0],text:d=>d,rotate:-31,fontSize:19.5,fill:"#111",dx:c.catDx[i],dy:c.catDy[i],lineHeight:1.2})),
      ...axisLines(c.xd,c.yd)
    ]});
}
function scatterPanel(c){
  const pts=[...c.points,...c.floor.map(x=>[x,.4])];
  const band=c.band.x.map((x,i)=>({x,lo:c.band.lo[i],hi:c.band.hi[i]}));
  place(c.frame,{
    x:{domain:c.xd,axis:null},y:{domain:c.yd,axis:null},
    marks:[
      Plot.dot(pts,{x:d=>d[0],y:d=>d[1],r:2.8,fill:"#111",fillOpacity:.58}),
      Plot.areaY(band,{x:"x",y1:"lo",y2:"hi",fill:"#9a9a9a",fillOpacity:.5,curve:"monotone-x"}),
      Plot.line(c.fit,{x:d=>d[0],y:d=>d[1],stroke:"#4464b4",strokeWidth:4}),
      Plot.axisX({ticks:c.xt,tickSize:3,tickPadding:c.xp??1,fontSize:c.xs||19.5,label:null,tickFormat:c.xf||plain}),
      Plot.axisY({ticks:c.yt,tickSize:3,tickPadding:1,fontSize:19.5,label:null,tickFormat:plain}),
      ...axisLines(c.xd,c.yd)
    ]});
}
function colorbar(frame,size,dy,pad){
  const steps=d3.range(-1,1,.02);
  place(frame,{
    x:{domain:[0,1],axis:null},y:{domain:[-1,1],axis:null},
    color:{type:"linear",domain:[-1,1],scheme:"RdBu"},
    marks:[
      Plot.rect(steps,{x1:()=>0,x2:()=>1,y1:d=>d,y2:d=>d+.021,fill:d=>d}),
      Plot.frame({stroke:"#9a9a9a",strokeWidth:1}),
      Plot.axisY({anchor:"right",ticks:legendTicks,tickSize:2,tickPadding:pad,fontSize:size,label:null,dy,textAnchor:"start",tickFormat:plain})
    ]});
}

// ---------- panels a, b ----------
boxPanel({frame:[41,20,488,363],xd:[-.597,4.588],yd:[.908,11.46],low:aLow,q1:aQ1,med:aMed,q3:aQ3,high:aHigh,
  groups:[aGroup0,aGroup1,aGroup2,aGroup3,aGroup4],bracketY:aBracketY,bracketP:aBracketP,pDy:-8,
  catDx:[-21,-13,-12,-14,-19],catDy:[50,33,33,33,40]});
boxPanel({frame:[618,17,1065,360.7],xd:[-.595,4.59],yd:[.912,11.51],low:bLow,q1:bQ1,med:bMed,q3:bQ3,high:bHigh,
  groups:[bGroup0,bGroup1,bGroup2,bGroup3,bGroup4],bracketY:bBracketY,bracketP:bBracketP,pDy:-7,
  catDx:[-31,-15,-13,-14.5,-20],catDy:[50,32,32,32,37]});
label("a",29,9,{bold:true,size:21,lh:.6});label("b",606,10,{bold:true,size:21,lh:.6});
label("log10(UDCA pmol/mg)",11,192,{rotate:-90});
label("log10(microbe-derived BAs pmol/mg)",590,197,{rotate:-90});
label("Time since UDCA exposure",261,442,{size:19});
label("Time since UDCA exposure",835,440,{size:19});

// ---------- panels c..i ----------
const y246=[2,4,6], fmt1=d3.format(".1f");
scatterPanel({frame:[39.3,538,268,744.3],xd:[.103,5.85],yd:[.118,6.155],xt:[1,2,3,4,5],yt:y246,points:cPoints,floor:cFloor,band:cBand,fit:cFit});
scatterPanel({frame:[327.3,520,556,742.7],xd:[3.367,6.124],yd:[.156,6.134],xt:[3.5,4,4.5,5,5.5,6],xf:fmt1,yt:y246,points:dPoints,floor:dFloor,band:dBand,fit:dFit});
scatterPanel({frame:[603.7,521.7,832.3,744.3],xd:[1.227,6.187],yd:[-.868,6.21],xt:[2,3,4,5,6],yt:[0,2,4,6],points:ePoints,floor:eFloor,band:eBand,fit:eFit});
scatterPanel({frame:[893.7,521.7,1122.7,745],xd:[1.896,5.665],yd:[.118,6.18],xt:[2,3,4,5],yt:y246,points:fPoints,floor:fFloor,band:fBand,fit:fFit});
scatterPanel({frame:[1186.7,521.7,1415.7,745],xd:[2.348,5.667],yd:[.118,6.18],xt:[3,4,5],yt:y246,points:gPoints,floor:gFloor,band:gBand,fit:gFit});
scatterPanel({frame:[39.4,889,269,1112.7],xd:[.175,5.53],yd:[.11,6.18],xt:[1,2,3,4,5],yt:y246,points:hPoints,floor:hFloor,band:hBand,fit:hFit});
scatterPanel({frame:[324.8,891.7,554.7,1114.3],xd:[-3.81,2.52],yd:[.13,6.135],xt:[-2,0,2],yt:y246,xp:0,xs:18.5,points:iPoints,floor:iFloor,band:iBand,fit:iFit});

const TS=21.6, RS=21.2;
[["c",17,515],["d",291,512],["e",576,513],["f",875,513],["g",1167,512],["h",25,867],["i",298,867],["k",820,1067]].forEach(([t,x,y])=>label(t,x,y,{bold:true,size:21,lh:.6}));
label("j",566,845,{size:23,lh:.8});
label("Glycine/taurine-UDCA",151,492,{bold:true,size:TS});
label("Total BAs",383,490,{bold:true,size:TS});
label("Microbe-derived BAs",711,490,{bold:true,size:TS});
label("Host-derived BAs",987,490,{bold:true,size:TS});
label("Total BAs nonUDCA",1291,487,{bold:true,size:TS});
label("Microbe-derived",133,824,{bold:true,size:TS});
label("nonUDCA",100,850,{bold:true,size:TS});
label("M/H ratio nonUDCA",415,848,{bold:true,size:TS});
label("R=0.5, p<2.2e-16",135,519,{italic:true,size:RS});
label("R=0.6, p<2.2e-16",428,517,{italic:true,size:RS});
label("R=0.83, p<2.2e-16",706,516,{italic:true,size:RS});
label("R=0.23, p=0.00013",1002,516,{italic:true,size:RS});
label("R=0.26, p=8e-06",1280,514,{italic:true,size:RS});
label("R=0.18, p=0.0032",148,875,{italic:true,size:RS});
label("R=0.037, p=0.54",407,875,{italic:true,size:RS});
label("log10(UDCA pmol/mg)",13,627,{rotate:-90});
label("log10(G/T-UDCA pmol/mg)",144,778,{size:19.1});
label("log10(UDCA pmol/mg)",301,628,{rotate:-90});
label("log10(total BAs pmol/mg)",440,778,{size:19});
label("log(UDCA pmol/mg)",573,638,{rotate:-90});
label("log10(microbe-derived BAs pmol/mg)",706,781,{size:17.6});
label("log10(UDCA pmol/mg)",865,625,{rotate:-90});
label("log10(Host-derived BAs pmol/mg)",1002,779,{size:17.5});
label("log10(UDCA pmol/mg)",1160,625,{rotate:-90});
label("log10(total BAs nonUDCA)",1294,776,{size:18.9});
label("log10(UDCA pmol/mg)",11,1004,{rotate:-90});
label("log10(microbe-derived",164,1144);
label("nonUDCA pmol/mg)",164,1167);
label("log10(UDCA pmol/mg)",296,1002,{rotate:-90});
label("log10(M/H nonUDCA)",432,1147,{size:18.9});

// ---------- panel j ----------
const jRow=jNames.map((name,i)=>({name,row:"UDCA",v:jValues[i],a:Math.abs(jValues[i])}));
place([670,950,1500,969.3],{
  x:{type:"band",domain:jNames,padding:0,round:false,axis:null},
  y:{type:"band",domain:["UDCA"],padding:0,round:false,axis:null},
  color:{type:"linear",domain:[-1,1],scheme:"RdBu"},
  r:{type:"sqrt",domain:[0,1],range:[0,9]},
  marks:[
    Plot.cell(jRow,{x:"name",y:"row",fill:"white",stroke:"#d8d8d8",strokeWidth:1}),
    Plot.dot(jRow,{x:"name",y:"row",r:"a",fill:"v"}),
    Plot.axisX({anchor:"top",tickRotate:-90,tickSize:0,tickPadding:5,fontSize:16,label:null,dx:-2}),
    Plot.axisY({anchor:"left",tickSize:0,tickPadding:9,fontSize:16,label:null})
  ]},{l:60,r:10,t:150,b:10});
colorbar([601,995,609,1186],17,-5,7);

// ---------- panel k ----------
const kCells=kValues.flatMap((vals,r)=>vals.map((v,i)=>({row:kRows[r],col:kCols[r+i],v})));
const kRowLabels=kRows.map((row,r)=>({row,col:kCols[r]}));
place([982,1104.3,1342.4,1464.3],{
  x:{type:"band",domain:kCols,padding:0,round:false,axis:null},
  y:{type:"band",domain:kRows,padding:0,round:false,axis:null},
  color:{type:"linear",domain:[-1,1],scheme:"RdBu"},
  marks:[
    Plot.cell(kCells,{x:"col",y:"row",fill:"white",stroke:"#c8c8c8",strokeWidth:1}),
    Plot.text(kCells,{x:"col",y:"row",text:d=>d.v.toFixed(2),fill:"v",fontSize:15.5,fontWeight:"bold"}),
    Plot.text(kRowLabels,{x:"col",y:"row",text:"row",textAnchor:"end",dx:-25,dy:-3,fontSize:17,fill:"#111"}),
    Plot.axisX({anchor:"top",tickRotate:-90,tickSize:0,tickPadding:5,fontSize:17,label:null,dx:-2})
  ]},{l:100,r:10,t:130,b:4});
colorbar([1351,1105,1365,1465.7],15.5,-2,5);
</script></body></html>
